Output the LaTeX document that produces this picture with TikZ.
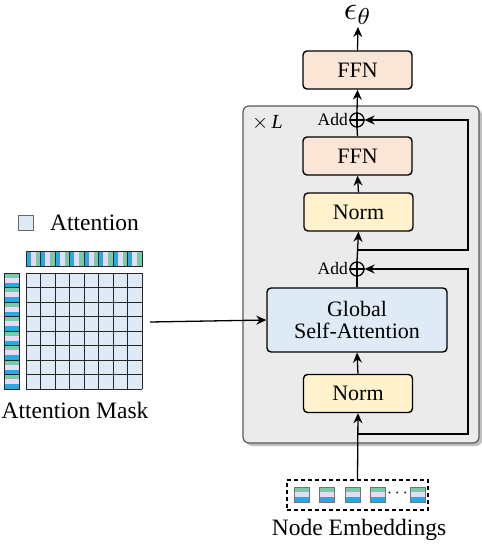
\documentclass[tikz,border=0pt]{standalone}
\usepackage{fontspec}
\setmainfont{Liberation Serif}
\newfontfamily\tnr{Liberation Serif}
\usetikzlibrary{arrows.meta}
\definecolor{peach}{HTML}{FBE5D6}
\definecolor{pyellow}{HTML}{FFF2CC}
\definecolor{pblue}{HTML}{DEEBF7}
\definecolor{sblue}{HTML}{29A9E1}
\definecolor{spurple}{HTML}{E8DAF8}
\definecolor{sgreen}{HTML}{78CBA9}
\definecolor{boxgray}{HTML}{EBEBEB}
\begin{document}
\begin{tikzpicture}[x=1pt,y=-1pt,
  blk/.style={draw, line width=1.4pt, rounded corners=4pt, inner sep=0pt, font=\tnr\fontsize{22}{24}\selectfont},
  ffn/.style={blk, fill=peach, minimum width=109pt, minimum height=38pt},
  normbox/.style={blk, fill=pyellow, minimum width=109pt, minimum height=38pt},
  attn/.style={blk, fill=pblue, minimum width=180pt, minimum height=64pt, align=center},
  addc/.style={circle, draw, line width=1.3pt, minimum size=14pt, inner sep=0pt},
  arr/.style={line width=1.3pt, -{Stealth[length=10pt,width=9pt]}},
  ln/.style={line width=1.3pt},
  lbl/.style={font=\tnr\fontsize{23.5}{25}\selectfont, inner sep=0pt},
  addlbl/.style={font=\tnr\fontsize{17.5}{19}\selectfont, inner sep=0pt, anchor=east},
  cellg/.style={draw=black!85, line width=1pt}
]
\useasboundingbox (0,0) rectangle (482,550);
% layer box
\fill[black!25, rounded corners=6pt] (246,109) rectangle (482,446);
\node[draw=black!65, fill=boxgray, line width=1.2pt, rounded corners=6pt, minimum width=236pt, minimum height=337pt, inner sep=0pt] (layer) at (361,274.5) {};
\node[font=\tnr\fontsize{20}{22}\selectfont, inner sep=0pt, anchor=west] (xl) at (252,123) {$\times$\,\textit{L}};

% main column
\node[ffn] (ffnTop) at (357.5,70) {FFN};
\node[ffn] (ffnIn) at (357.5,156) {FFN};
\node[normbox] (norm2) at (358.5,212) {Norm};
\node[attn] (gsa) at (357,320) {Global\\[-2pt]Self-Attention};
\node[normbox] (norm1) at (358,393.5) {Norm};
\node[addc] (add1) at (357,120) {};
\node[addc] (add2) at (357,269) {};
\draw[ln] (add1.north)--(add1.south) (add1.west)--(add1.east);
\draw[ln] (add2.north)--(add2.south) (add2.west)--(add2.east);
\node[addlbl] (addl1) at (348,120) {Add};
\node[addlbl] (addl2) at (348,269) {Add};
\node[inner sep=0pt, anchor=south] (eps) at (358,25) {\scalebox{3.3}{$\epsilon_\theta$}};

% embeddings
\node[draw, line width=1.8pt, dash pattern=on 4pt off 3pt, minimum width=141pt, minimum height=30pt, inner sep=0pt] (emb) at (357.5,495) {};
\node[lbl] (embl) at (359,530) {Node Embeddings};
\foreach \xx/\nm in {294/e1,319/e2,345/e3,370/e4,410/e5}{
  \fill[sgreen] (\xx,487) rectangle (\xx+15,492);
  \fill[spurple] (\xx,492) rectangle (\xx+15,497);
  \fill[sblue] (\xx,497) rectangle (\xx+15,502);
  \node[draw=black!55, line width=1pt, minimum size=15pt, inner sep=0pt] (\nm) at (\xx+7.5,494.5) {};
}
\node[inner sep=0pt] (dots) at (397.5,493.5) {\scalebox{1.8}{$\cdots$}};

% connectors
\draw[arr] (emb.north) -- (norm1.south);
\draw[arr] (norm1.north) -- (gsa.south);
\draw[ln] (gsa.north) -- (add2.south);
\draw[arr] (add2.north) -- (norm2.south);
\draw[arr] (norm2.north) -- (ffnIn.south);
\draw[ln] (ffnIn.north) -- (add1.south);
\draw[arr] (add1.north) -- (ffnTop.south);
\draw[arr] (ffnTop.north) -- ([yshift=-2pt]eps.south);
\coordinate (b1) at (357,250);
\coordinate (r1) at (468,250);
\draw[arr] (b1) -- (r1) |- (add1.east);
\coordinate (b2) at (357,434);
\coordinate (r2) at (468,434);
\draw[arr] (b2) -- (r2) |- (add2.east);

% attention mask
\node[lbl, anchor=west] (legt) at (50,223) {Attention};
\node[draw=black!60, fill=pblue, line width=1pt, minimum size=15pt, inner sep=0pt] (legsq) at (25.5,222.5) {};
\fill[pblue] (26,273) rectangle (142,389);
\foreach \i in {0,...,7}{
  \pgfmathsetmacro{\xa}{26+\i*14.5}
  \fill[sblue] (\xa,251) rectangle (\xa+4.5,266);
  \fill[spurple] (\xa+4.5,251) rectangle (\xa+9.5,266);
  \fill[sgreen] (\xa+9.5,251) rectangle (\xa+14.5,266);
  \pgfmathsetmacro{\ya}{273+\i*14.5}
  \fill[sgreen] (4,\ya) rectangle (19,\ya+4.5);
  \fill[spurple] (4,\ya+4.5) rectangle (19,\ya+9.5);
  \fill[sblue] (4,\ya+9.5) rectangle (19,\ya+14.5);
}
\foreach \i in {0,...,8}{
  \pgfmathsetmacro{\xa}{26+\i*14.5}
  \pgfmathsetmacro{\ya}{273+\i*14.5}
  \draw[cellg] (\xa,251) -- (\xa,266);
  \draw[cellg] (4,\ya) -- (19,\ya);
  \draw[cellg] (\xa,273) -- (\xa,389);
  \draw[cellg] (26,\ya) -- (142,\ya);
}
\draw[cellg] (26,251) rectangle (142,266);
\draw[cellg] (4,273) rectangle (19,389);
\node[lbl] (maskl) at (75,410) {Attention Mask};
\coordinate (maskout) at (150,322);
\draw[arr] (maskout) -- (gsa.west);
\end{tikzpicture}
\end{document}
